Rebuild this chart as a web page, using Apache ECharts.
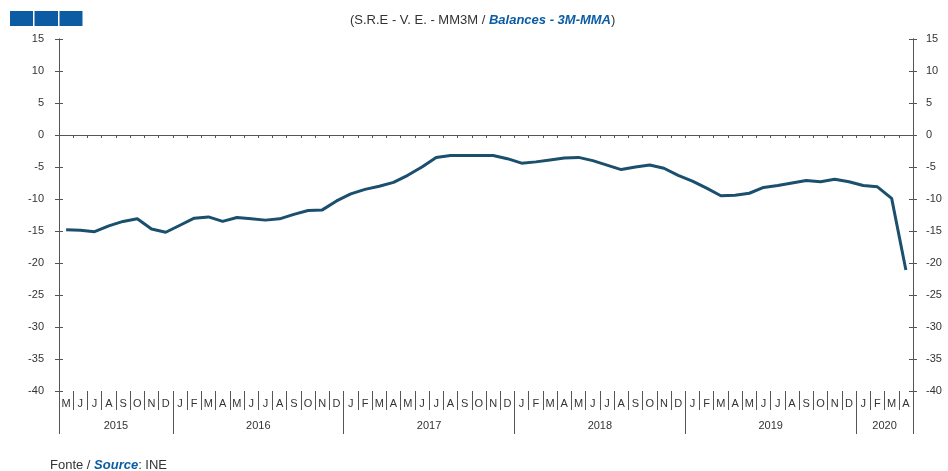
<!DOCTYPE html>
<html>
<head>
<meta charset="utf-8">
<script src="https://cdn.jsdelivr.net/npm/echarts@6/dist/echarts.min.js"></script>
<style>
  html, body { margin: 0; padding: 0; background: #fff; }
  #chart { width: 948px; height: 471px; }
</style>
</head>
<body>
<div id="chart"></div>
<script>
// monthly balances, May 2015 .. Apr 2020
const monthLetters = ['J', 'F', 'M', 'A', 'M', 'J', 'J', 'A', 'S', 'O', 'N', 'D']
const startMonth = 4 // May
const years = ['2015', '2016', '2017', '2018', '2019', '2020']
const monthsPerYear = [8, 12, 12, 12, 12, 4]
const balances = [
  -14.8, -14.9, -15.1, -14.2, -13.5, -13.1, -14.7, -15.2, -14.1, -13.0,
  -12.8, -13.5, -12.9, -13.1, -13.3, -13.1, -12.4, -11.8, -11.7, -10.3,
  -9.2, -8.5, -8.0, -7.4, -6.3, -5.0, -3.5, -3.2, -3.2, -3.2,
  -3.2, -3.7, -4.4, -4.2, -3.9, -3.6, -3.5, -4.0, -4.7, -5.4,
  -5.0, -4.7, -5.2, -6.3, -7.2, -8.3, -9.5, -9.4, -9.1, -8.2,
  -7.9, -7.5, -7.1, -7.3, -6.9, -7.3, -7.9, -8.1, -9.9, -21.1
]
const yMin = -40
const yMax = 15
const yStep = 5

const FONT = '"Liberation Sans", Arial, sans-serif'
const TXT = '#333'
const AXIS = '#555'
const BLUE = '#0b5ca3'

const months = balances.map((v, i) => monthLetters[(startMonth + i) % 12])

// boundary axis: one slot per month edge, year label at middle of each year
const edges = new Array(months.length + 1).fill('')
const yearEdges = [0]
let pos = 0
years.forEach((y, k) => {
  edges[pos + monthsPerYear[k] / 2] = y
  pos += monthsPerYear[k]
  yearEdges.push(pos)
})

const chart = echarts.init(document.getElementById('chart'))

const yAxisBase = {
  type: 'value',
  min: yMin,
  max: yMax,
  interval: yStep,
  splitLine: { show: false },
  axisLine: { show: true, lineStyle: { color: AXIS } },
  axisTick: { show: true, length: 4, lineStyle: { color: AXIS } },
  axisLabel: { fontFamily: FONT, fontSize: 11, color: TXT }
}

const richText = (size) => ({
  n: { fontFamily: FONT, fontSize: size, color: TXT, fontWeight: 'normal' },
  b: { fontFamily: FONT, fontSize: size, color: BLUE, fontWeight: 'bold', fontStyle: 'italic' }
})

chart.setOption({
  animation: false,
  title: [
    {
      left: 350,
      top: 14,
      padding: 0,
      text: '{n|(S.R.E - V. E. - MM3M / }{b|Balances - 3M-MMA}{n|)}',
      textStyle: { fontWeight: 'normal', rich: richText(13) }
    },
    {
      left: 50,
      top: 459,
      padding: 0,
      text: '{n|Fonte / }{b|Source}{n|: INE}',
      textStyle: { fontWeight: 'normal', rich: richText(13) }
    }
  ],
  graphic: [
    { type: 'rect', shape: { x: 10, y: 11, width: 23, height: 15 }, style: { fill: BLUE } },
    { type: 'rect', shape: { x: 34.5, y: 11, width: 23.5, height: 15 }, style: { fill: BLUE } },
    { type: 'rect', shape: { x: 59.5, y: 11, width: 23, height: 15 }, style: { fill: BLUE } }
  ],
  grid: { left: 59, right: 35, top: 39, bottom: 80, containLabel: false },
  xAxis: [
    {
      type: 'category',
      data: months,
      boundaryGap: true,
      axisLine: { show: true, onZero: true, onZeroAxisIndex: 0, lineStyle: { color: AXIS } },
      axisTick: { show: true, interval: 0, length: 3, lineStyle: { color: AXIS } },
      axisLabel: { show: false }
    },
    {
      type: 'category',
      data: months,
      position: 'bottom',
      boundaryGap: true,
      axisLine: { show: false, onZero: false },
      axisTick: { show: true, interval: 0, length: 19, lineStyle: { color: AXIS } },
      axisLabel: { interval: 0, margin: 7, fontFamily: FONT, fontSize: 11, color: TXT }
    },
    {
      type: 'category',
      data: edges,
      position: 'bottom',
      boundaryGap: false,
      axisLine: { show: false, onZero: false },
      axisTick: {
        show: true,
        length: 43,
        interval: (i) => yearEdges.indexOf(i) !== -1,
        lineStyle: { color: AXIS }
      },
      axisLabel: { interval: 0, margin: 29, fontFamily: FONT, fontSize: 11, color: TXT }
    }
  ],
  yAxis: [
    Object.assign({}, yAxisBase, { position: 'left', axisLabel: Object.assign({}, yAxisBase.axisLabel, { margin: 15 }) }),
    Object.assign({}, yAxisBase, { position: 'left', axisTick: Object.assign({}, yAxisBase.axisTick, { inside: true }), axisLabel: { show: false } }),
    Object.assign({}, yAxisBase, { position: 'right', axisLabel: Object.assign({}, yAxisBase.axisLabel, { margin: 13 }) }),
    Object.assign({}, yAxisBase, { position: 'right', axisTick: Object.assign({}, yAxisBase.axisTick, { inside: true }), axisLabel: { show: false } })
  ],
  series: [
    {
      type: 'line',
      xAxisIndex: 0,
      yAxisIndex: 0,
      data: balances,
      showSymbol: false,
      symbol: 'none',
      lineStyle: { color: '#1b4f6e', width: 3 }
    }
  ]
})
</script>
</body>
</html>
